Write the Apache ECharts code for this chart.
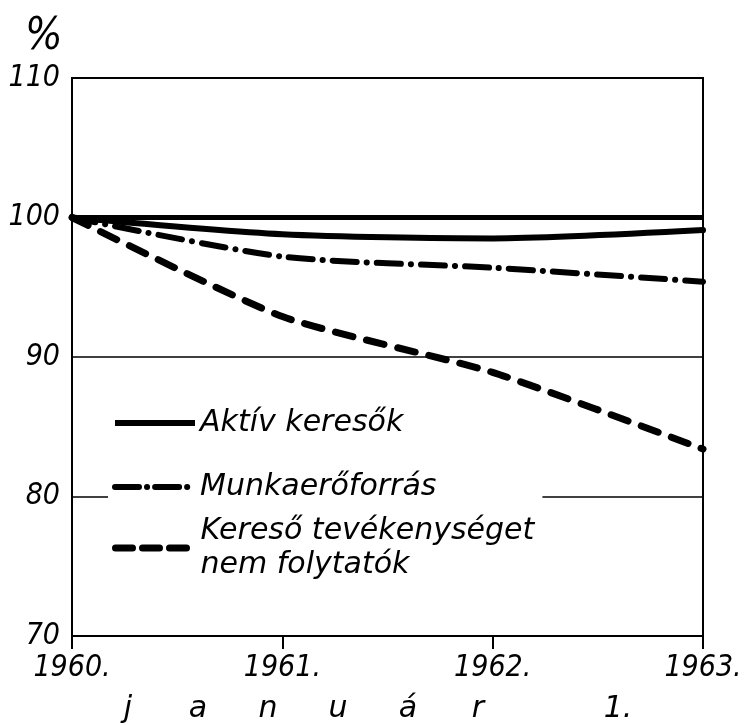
<!DOCTYPE html>
<html>
<head>
<meta charset="utf-8">
<script src="https://cdn.jsdelivr.net/npm/echarts@6/dist/echarts.min.js"></script>
<style>
html,body{margin:0;padding:0;background:#fff;}
#chart{width:746px;height:725px;}
</style>
</head>
<body>
<div id="chart"></div>
<script>
// ---- data ----
var years = ['1960.', '1961.', '1962.', '1963.'];
var yTicks = [70, 80, 90, 100, 110];
var aktivKeresok = [100, 98.8, 98.5, 99.1];
var munkaeroforras = [100, 97.2, 96.4, 95.4];
var nemFolytatok = [100, 92.9, 88.9, 83.4];
var seriesNames = ['Aktív keresők', 'Munkaerőforrás', 'Kereső tevékenységet\nnem folytatók'];
var axisNameLetters = ['j', 'a', 'n', 'u', 'á', 'r', '', '1.'];

var FONT = '"DejaVu Sans", sans-serif';
var FONT_C = '"DejaVu Sans Condensed", "DejaVu Sans", sans-serif';

var chart = echarts.init(document.getElementById('chart'), null, {renderer: 'canvas'});

var nameRich = '';
axisNameLetters.forEach(function (l) { nameRich += '{c|' + l + '}'; });

var legendCommon = {
  orient: 'vertical', itemWidth: 80, itemHeight: 14, itemGap: 0,
  itemStyle: {opacity: 0, borderWidth: 0},
  selectedMode: false
};
function legendText(extra) {
  var t = {fontFamily: FONT, fontStyle: 'italic', fontSize: 30, color: '#000', lineHeight: 34};
  for (var k in extra) t[k] = extra[k];
  return t;
}
function mk(extra) {
  var o = {};
  for (var k in legendCommon) o[k] = legendCommon[k];
  for (var k2 in extra) o[k2] = extra[k2];
  return o;
}

var option = {
  backgroundColor: '#fff',
  animation: false,
  title: {
    text: '%',
    left: 20,
    top: 11,
    textStyle: {fontFamily: FONT_C, fontStyle: 'italic', fontWeight: 'normal', fontSize: 44, color: '#000'}
  },
  grid: {
    left: 72, right: 43, top: 78, bottom: 89,
    outerBoundsMode: 'none',
    containLabel: false,
    show: true, borderColor: '#000', borderWidth: 2, backgroundColor: 'transparent'
  },
  xAxis: {
    type: 'category',
    data: years,
    boundaryGap: false,
    axisLine: {lineStyle: {color: '#000', width: 2}},
    axisTick: {show: true, length: 13, lineStyle: {color: '#000', width: 2}},
    axisLabel: {
      color: '#000', fontFamily: FONT_C, fontStyle: 'italic', fontSize: 30, margin: 17
    },
    splitLine: {show: false},
    name: nameRich,
    nameLocation: 'middle',
    nameGap: 58,
    nameTextStyle: {
      padding: [0, 29, 0, 0],
      rich: {
        c: {width: 70, align: 'center', fontFamily: FONT, fontStyle: 'italic', fontSize: 30, color: '#000'}
      }
    }
  },
  yAxis: {
    type: 'value',
    min: yTicks[0],
    max: yTicks[yTicks.length - 1],
    interval: 10,
    axisLine: {show: true, lineStyle: {color: '#000', width: 2}},
    axisTick: {show: false},
    axisLabel: {color: '#000', fontFamily: FONT_C, fontStyle: 'italic', fontSize: 30, margin: 12},
    splitLine: {show: true, lineStyle: {color: '#000', width: 1.5}}
  },
  legend: [
    mk({
      data: [seriesNames[0]], left: 112, top: 406, padding: 0,
      textStyle: legendText({}),
      lineStyle: {width: 6, type: 'solid', cap: 'butt'}
    }),
    mk({
      data: [seriesNames[1]], left: 108, top: 466, padding: [4, 106, 4, 4],
      backgroundColor: '#fff',
      textStyle: legendText({}),
      lineStyle: {width: 6, type: [24, 8, 0.1, 8], cap: 'round'}
    }),
    mk({
      data: [seriesNames[2]], left: 112, top: 497, padding: 0,
      textStyle: legendText({padding: [34, 0, 0, 0]}),
      lineStyle: {width: 7, type: [17, 10], cap: 'round'}
    })
  ],
  series: [
    {
      name: seriesNames[0], type: 'line', data: aktivKeresok,
      smooth: 0.25, symbol: 'none', showSymbol: false,
      lineStyle: {color: '#000', width: 6, type: 'solid', cap: 'round'},
      itemStyle: {color: '#000'},
      markLine: {
        silent: true, symbol: 'none', label: {show: false},
        lineStyle: {color: '#000', width: 5, type: 'solid'},
        data: [{yAxis: 100}]
      },
      z: 3
    },
    {
      name: seriesNames[1], type: 'line', data: munkaeroforras,
      smooth: 0.25, symbol: 'none', showSymbol: false,
      lineStyle: {color: '#000', width: 6, type: [24, 10, 0.1, 10], cap: 'round'},
      itemStyle: {color: '#000'},
      z: 3
    },
    {
      name: seriesNames[2], type: 'line', data: nemFolytatok,
      smooth: 0.2, symbol: 'none', showSymbol: false,
      lineStyle: {color: '#000', width: 7, type: [18, 14], cap: 'round'},
      itemStyle: {color: '#000'},
      z: 3
    }
  ]
};
chart.setOption(option);
</script>
</body>
</html>
